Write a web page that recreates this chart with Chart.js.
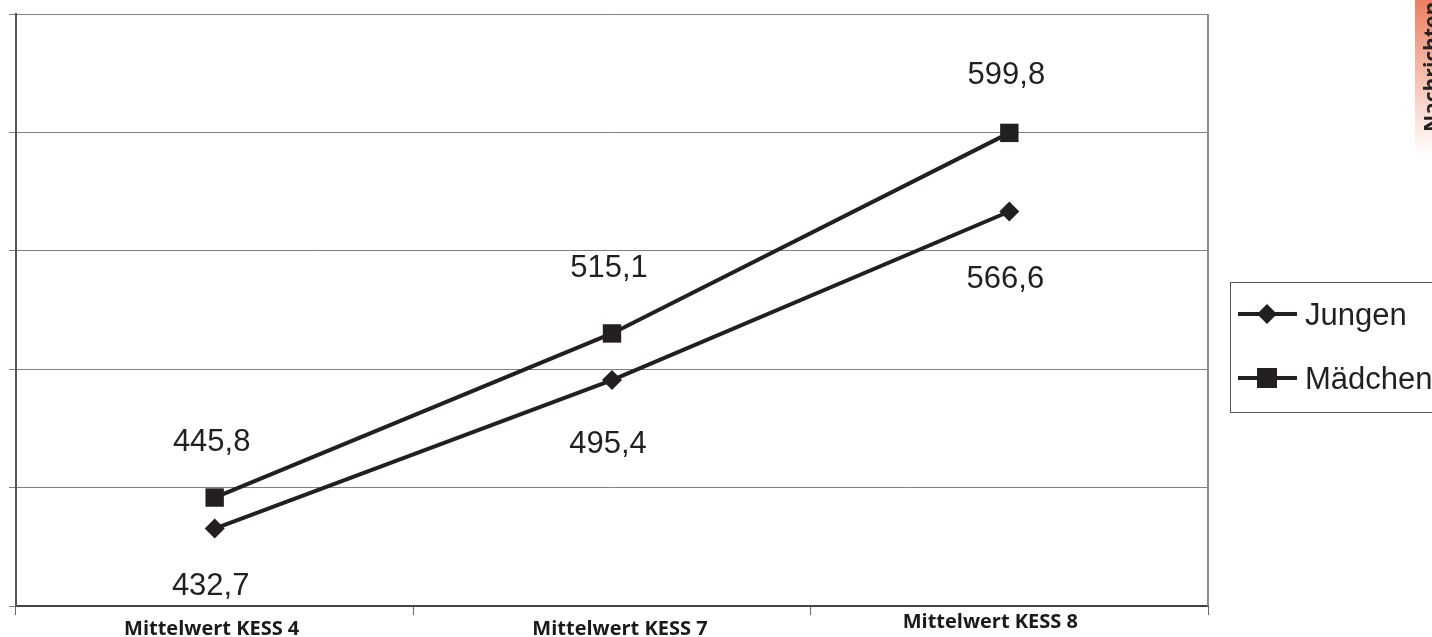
<!DOCTYPE html>
<html><head><meta charset="utf-8">
<script src="https://cdn.jsdelivr.net/npm/chart.js@4.4.1/dist/chart.umd.min.js"></script>
<style>html,body{margin:0;padding:0;background:#fff;}#wrap{width:1432px;height:637px;position:relative;}</style>
</head><body><div id="wrap"><canvas id="c" width="1432" height="637"></canvas></div>
<script>
const categories = ['Mittelwert KESS 4', 'Mittelwert KESS 7', 'Mittelwert KESS 8'];
const jungen = [432.7, 495.4, 566.6];
const maedchen = [445.8, 515.1, 599.8];
const seriesNames = ['Jungen', 'Mädchen'];
const yMin = 400, yMax = 650, yStep = 50;

// styling-only offsets for labels (pixels)
const labelOffsetJ = [66, 73, 77];
const labelOffsetM = [-47, -56, -49];
const catLabelDX = [-3, 8, -19];
const catLabelY = [635, 635, 628];

const INK = '#231f20';
const fmt = v => v.toFixed(1).replace('.', ',');

const extras = {
  id: 'extras',
  afterDraw(chart) {
    const ctx = chart.ctx, ca = chart.chartArea, xs = chart.scales.x;
    ctx.save();
    // right frame line
    ctx.strokeStyle = '#8a8a8a'; ctx.lineWidth = 2;
    ctx.beginPath(); ctx.moveTo(ca.right, ca.top); ctx.lineTo(ca.right, ca.bottom); ctx.stroke();
    // value labels
    ctx.fillStyle = INK; ctx.font = '31px "Liberation Sans", Arial, sans-serif';
    ctx.textAlign = 'center'; ctx.textBaseline = 'alphabetic';
    const mJ = chart.getDatasetMeta(0), mM = chart.getDatasetMeta(1);
    mJ.data.forEach((p, i) => ctx.fillText(fmt(jungen[i]), p.x - 4, p.y + labelOffsetJ[i]));
    mM.data.forEach((p, i) => ctx.fillText(fmt(maedchen[i]), p.x - 3, p.y + labelOffsetM[i]));
    // category labels
    ctx.fillStyle = '#1a1a1a';
    ctx.font = 'bold 20px "Open Sans", sans-serif';
    categories.forEach((c, i) => ctx.fillText(c, xs.getPixelForValue(i) + catLabelDX[i], catLabelY[i]));
    // legend
    ctx.strokeStyle = '#555'; ctx.lineWidth = 1;
    ctx.strokeRect(1230.5, 282.5, 230, 130);
    const items = [{y: 314, shape: 'd'}, {y: 378, shape: 's'}];
    items.forEach((it, i) => {
      ctx.strokeStyle = INK; ctx.lineWidth = 4;
      ctx.beginPath(); ctx.moveTo(1238, it.y); ctx.lineTo(1297, it.y); ctx.stroke();
      ctx.fillStyle = INK;
      if (it.shape === 'd') {
        ctx.beginPath(); ctx.moveTo(1267 - 10, it.y); ctx.lineTo(1267, it.y - 10); ctx.lineTo(1267 + 10, it.y); ctx.lineTo(1267, it.y + 10); ctx.closePath(); ctx.fill();
      } else {
        ctx.fillRect(1267 - 10, it.y - 10, 20, 20);
      }
      ctx.font = '31px "Liberation Sans", Arial, sans-serif';
      ctx.textAlign = 'left';
      ctx.fillText(seriesNames[i], 1305, it.y + 11);
    });
    // side tab
    const g = ctx.createLinearGradient(0, 0, 0, 155);
    g.addColorStop(0, '#ee7f5f'); g.addColorStop(1, 'rgba(255,255,255,1)');
    ctx.fillStyle = g; ctx.fillRect(1415, 0, 20, 155);
    ctx.translate(1439, 132); ctx.rotate(-Math.PI / 2);
    ctx.fillStyle = '#222'; ctx.font = 'bold 21px "Open Sans", sans-serif';
    ctx.textAlign = 'left'; ctx.textBaseline = 'alphabetic';
    ctx.fillText('Nachrichten', 0, 0);
    ctx.restore();
  }
};

new Chart(document.getElementById('c'), {
  type: 'line',
  data: {
    labels: categories,
    datasets: [
      { label: seriesNames[0], data: jungen, borderColor: INK, backgroundColor: INK, borderWidth: 4,
        pointStyle: 'rectRot', pointRadius: 10, pointBorderWidth: 0, tension: 0 },
      { label: seriesNames[1], data: maedchen, borderColor: INK, backgroundColor: INK, borderWidth: 4,
        pointStyle: 'rect', pointRadius: 13, pointBorderWidth: 0, tension: 0 }
    ]
  },
  options: {
    responsive: false, animation: false, devicePixelRatio: 1,
    layout: { padding: { top: 14, right: 224, left: 0, bottom: 0 } },
    plugins: { legend: { display: false }, tooltip: { enabled: false } },
    scales: {
      x: {
        type: 'category', offset: true,
        ticks: { display: false },
        grid: { drawOnChartArea: false, drawTicks: true, tickLength: 9, color: '#666', offset: true },
        border: { color: '#444', width: 2 },
        afterFit: s => { s.height = 31; }
      },
      y: {
        min: yMin, max: yMax,
        ticks: { display: false, stepSize: yStep },
        grid: { color: '#808080', lineWidth: 1, tickLength: 7 },
        border: { color: '#555', width: 2 },
        afterFit: s => { s.width = 16; }
      }
    }
  },
  plugins: [extras]
});
</script></body></html>
